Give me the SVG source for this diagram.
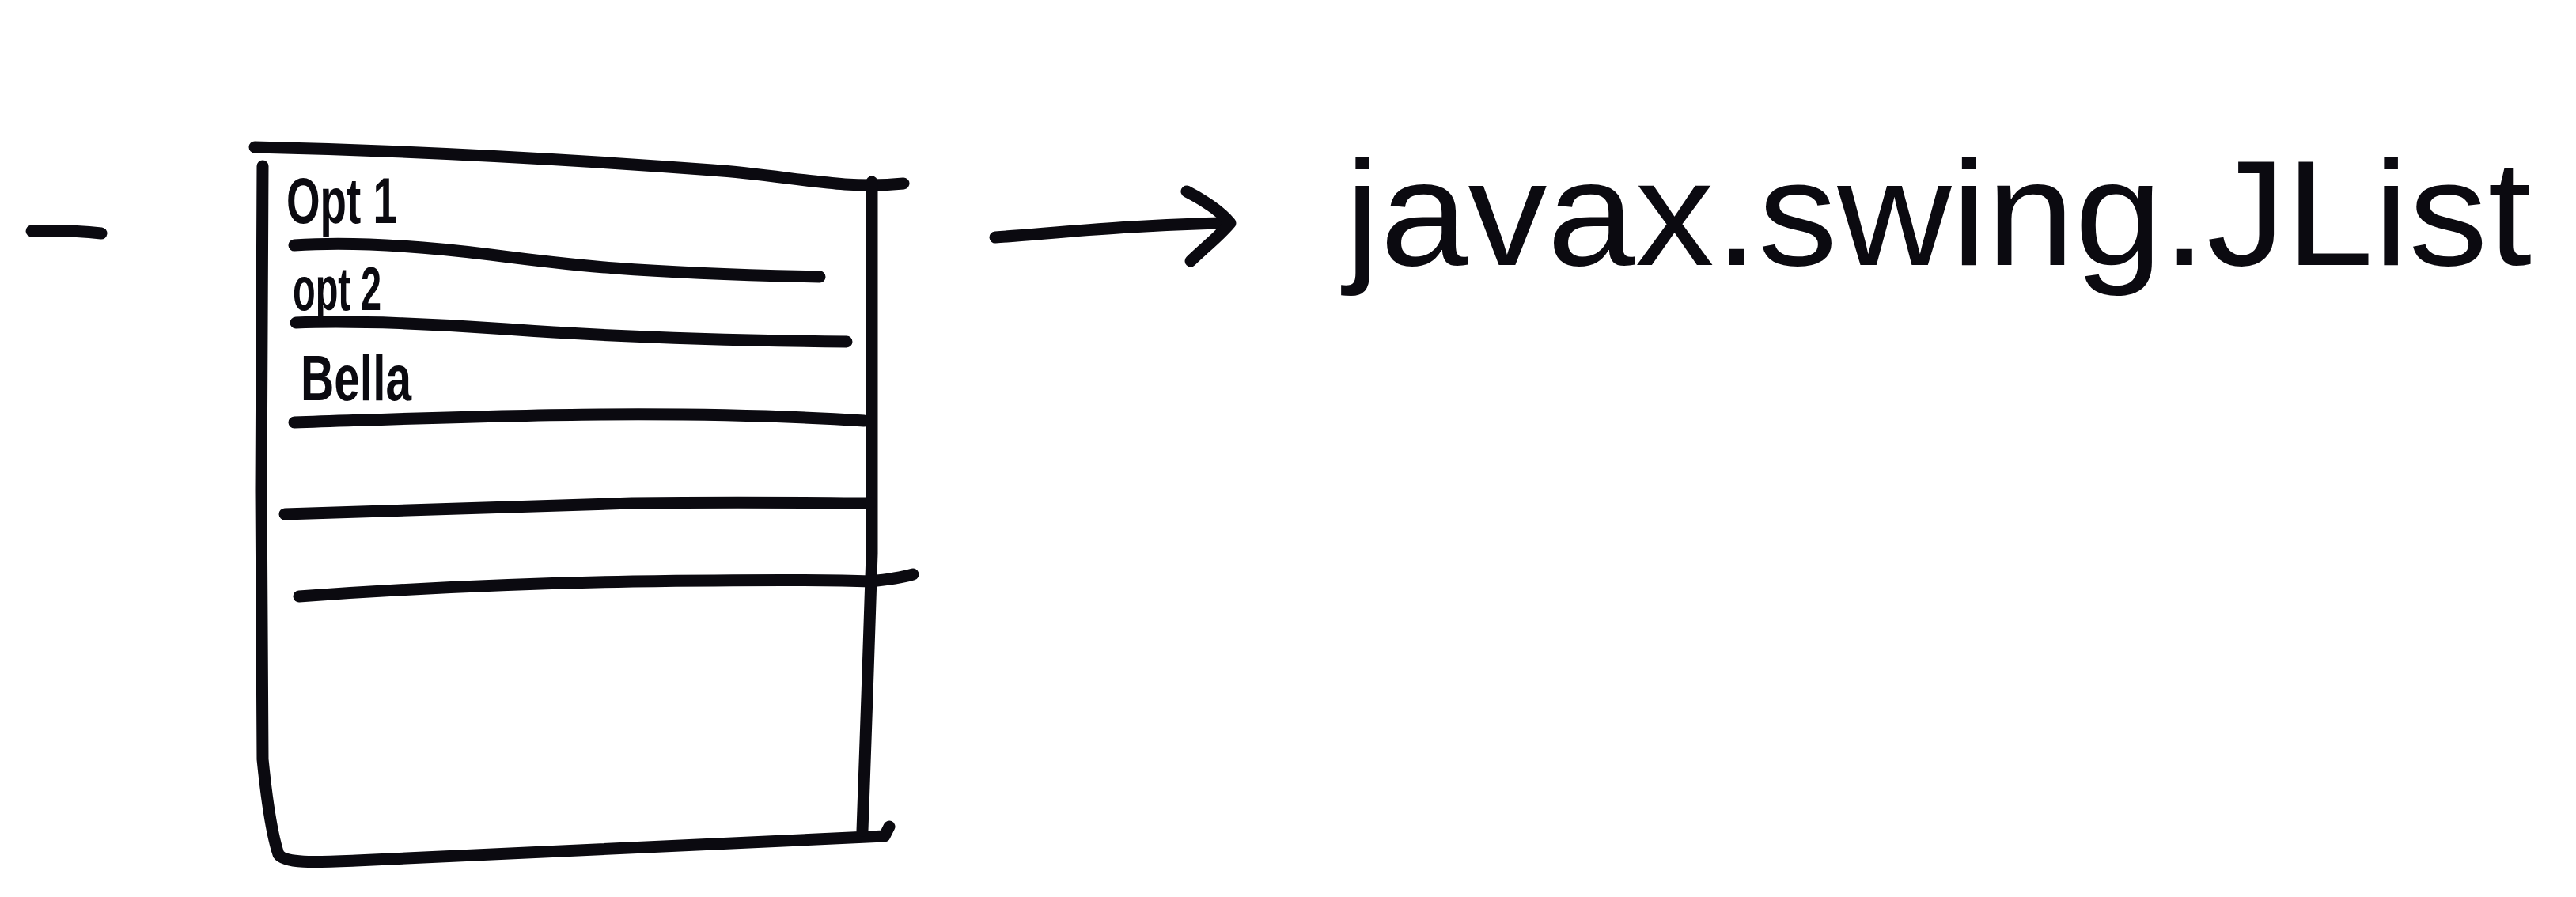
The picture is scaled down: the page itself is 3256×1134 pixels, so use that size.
<svg xmlns="http://www.w3.org/2000/svg" width="3256" height="1134" viewBox="0 0 3256 1134">
<style>
.s{fill:none;stroke:#0b0a10;stroke-width:15;stroke-linecap:round;stroke-linejoin:round}
.t{fill:#0b0a10;font-family:"Liberation Sans",Arial,sans-serif;font-weight:bold}
.big{fill:#0b0a10;font-family:"Liberation Sans",Arial,sans-serif;font-size:190px}
</style>
<rect width="3256" height="1134" fill="#ffffff"/>
<g id="dash">
<path class="s" d="M40,292 Q85,290 128,295"/>
</g>
<g id="list">
<path class="s" d="M322,186 C500,190 700,200 900,215 C1000,222 1060,240 1142,232"/>
<path class="s" d="M332,210 L330,620 L332,960 C336,1000 342,1050 352,1080 C360,1092 400,1090 450,1088 C700,1075 950,1065 1118,1057 L1124,1045"/>
<path class="s" d="M1102,230 L1102,700 L1096,880 L1090,1050"/>
<path class="s" d="M372,310 C450,305 540,312 620,322 C720,335 800,345 1036,350"/>
<path class="s" d="M374,408 C450,405 560,410 640,416 C760,425 900,430 1070,432"/>
<path class="s" d="M372,534 C500,530 620,525 760,524 C900,523 1000,526 1092,532"/>
<path class="s" d="M360,650 C500,645 650,640 800,636 C950,634 1050,636 1100,636"/>
<path class="s" d="M378,754 C500,745 650,738 800,735 C950,733 1050,733 1100,735 C1120,733 1140,730 1154,726"/>
<text class="t" x="362" y="282" font-size="82" textLength="140" lengthAdjust="spacingAndGlyphs">Opt 1</text>
<text class="t" x="370" y="392" font-size="78" textLength="112" lengthAdjust="spacingAndGlyphs">opt 2</text>
<text class="t" x="380" y="506" font-size="82" textLength="140" lengthAdjust="spacingAndGlyphs">Bella</text>
</g>
<g id="connectors">
<path class="s" d="M1258,300 C1330,295 1420,285 1545,282"/>
<path class="s" d="M1500,242 C1525,255 1545,270 1555,282 C1540,300 1520,315 1505,330"/>
</g>
<g id="label">
<text class="big" x="1700" y="335" textLength="1500" lengthAdjust="spacingAndGlyphs">javax.swing.JList</text>
</g>
</svg>
